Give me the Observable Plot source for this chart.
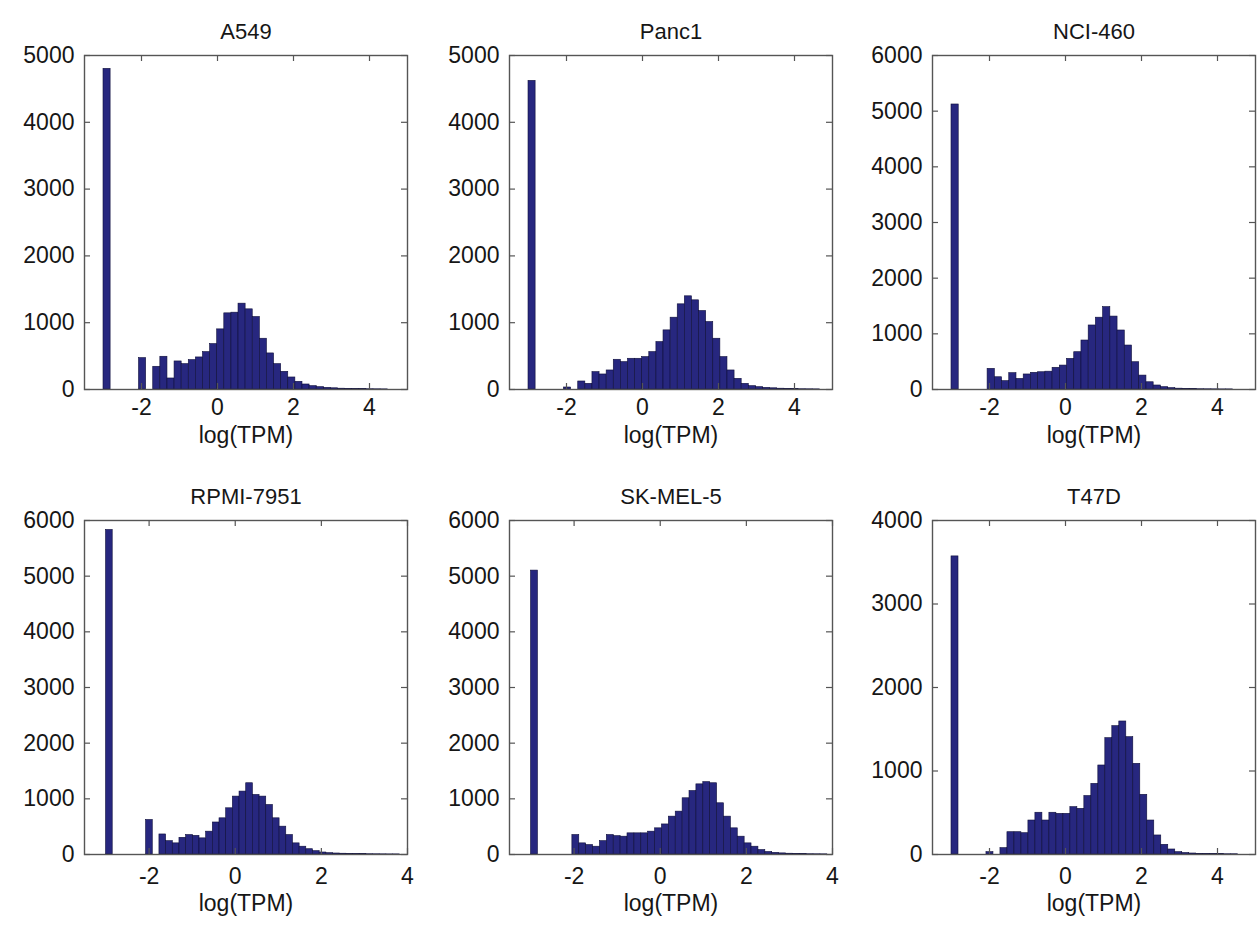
<!DOCTYPE html>
<html>
<head>
<meta charset="utf-8">
<script src="https://cdn.jsdelivr.net/npm/d3@7"></script>
<script src="https://cdn.jsdelivr.net/npm/@observablehq/plot@0.6"></script>
<style>
  html, body { margin: 0; padding: 0; background: #fff; }
  #chart { position: relative; width: 1257px; height: 933px; overflow: hidden; background: #fff; }
  #chart svg { position: absolute; }
</style>
</head>
<body>
<div id="chart"></div>
<script>
// ---- data (counts per histogram bin, bins start at -3) ----
const panelNames = ["A549", "Panc1", "NCI-460", "RPMI-7951", "SK-MEL-5", "T47D"];
const binStart = -3;
const binWidths = [0.187, 0.187, 0.19, 0.155, 0.16, 0.184];

const countsA549 = [4800,0,0,0,0,470,0,340,490,165,420,380,440,480,560,680,900,1140,1150,1285,1200,1085,760,540,380,265,180,115,75,50,35,25,18,12,9,6,5,4,3,2];
const countsPanc1 = [4620,0,0,0,0,30,0,120,85,260,225,285,445,410,460,460,485,560,710,885,1075,1275,1395,1335,1175,1010,760,485,285,160,85,50,35,25,18,12,8,5,4,3,2];
const countsNCI460 = [5120,0,0,0,0,371,220,150,293,190,270,300,310,320,390,430,550,670,880,1150,1290,1480,1310,1060,790,490,250,130,72,42,25,15,10,7,5,4,3,2,2];
const countsRPMI7951 = [5830,0,0,0,0,0,620,0,360,240,200,300,350,335,290,410,575,650,830,1040,1130,1280,1070,1040,890,650,500,350,200,140,95,60,36,24,18,14,10,8,6,5,4,3,2,2];
const countsSKMEL5 = [5100,0,0,0,0,0,350,200,170,140,240,350,330,320,380,380,380,410,470,540,680,770,1010,1140,1260,1300,1280,920,680,470,320,200,140,80,45,30,20,14,10,7,5,4,3];
const countsT47D = [3570,0,0,0,0,28,0,76,267,267,255,407,500,407,500,487,487,567,547,700,846,1066,1393,1537,1593,1405,1086,715,407,228,116,60,28,18,12,8,6,5,4,3,3];

const allCounts = [countsA549, countsPanc1, countsNCI460, countsRPMI7951, countsSKMEL5, countsT47D];
const xMin = -3.5;
const xMaxes = [5, 5, 5, 4, 4, 5];
const yMaxes = [5000, 5000, 6000, 6000, 6000, 4000];
const xTicks = [-2, 0, 2, 4];
const xLabel = "log(TPM)";

// ---- layout ----
const frameW = 323, frameH = 334;
const mL = 80, mT = 55, mB = 80;
const colLeft = [84, 509, 932];
const rowTop = [55, 520];
const FONT = "Liberation Sans, Arial, Helvetica, sans-serif";
const FS = 23;
const TXT = "#161616";
const chart = document.getElementById("chart");

panelNames.forEach((name, i) => {
  const col = i % 3, row = Math.floor(i / 3);
  const w = binWidths[i];
  const xMax = xMaxes[i], yMax = yMaxes[i];
  const yTicks = d3.range(0, yMax + 1, 1000);
  const bins = allCounts[i]
    .map((c, k) => ({x1: binStart + k * w, x2: binStart + (k + 1) * w, count: c}))
    .filter(d => d.count > 0);
  const tfY = 6 / frameH * yMax;           // inward tick length in y units
  const tfX = 6 / frameW * (xMax - xMin);  // inward tick length in x units
  const mR = col === 2 ? 2 : 6;

  const svg = Plot.plot({
    width: mL + frameW + mR,
    height: mT + frameH + mB,
    marginLeft: mL, marginRight: mR, marginTop: mT, marginBottom: mB,
    style: {fontFamily: FONT, fontSize: FS + "px", color: TXT, background: "transparent", overflow: "visible"},
    x: {domain: [xMin, xMax]},
    y: {domain: [0, yMax]},
    marks: [
      Plot.rectY(bins, {x1: "x1", x2: "x2", y: "count", fill: "#27277f", stroke: "#0e0e3a", strokeWidth: 0.6}),
      Plot.frame({stroke: "#555", strokeWidth: 1.4}),
      Plot.ruleX(xTicks, {y1: 0, y2: tfY, stroke: "#555", strokeWidth: 1.2}),
      Plot.ruleX(xTicks, {y1: yMax, y2: yMax - tfY, stroke: "#555", strokeWidth: 1.2}),
      Plot.ruleY(yTicks, {x1: xMin, x2: xMin + tfX, stroke: "#555", strokeWidth: 1.2}),
      Plot.ruleY(yTicks, {x1: xMax, x2: xMax - tfX, stroke: "#555", strokeWidth: 1.2}),
      Plot.axisX({ticks: xTicks, tickSize: 0, tickPadding: row === 0 ? 9 : 13, fontSize: FS, fill: TXT, label: null, tickFormat: d => (d < 0 ? "-" + Math.abs(d) : String(d))}),
      Plot.axisY({ticks: yTicks, tickSize: 0, tickPadding: 10, fontSize: FS, fill: TXT, label: null, tickFormat: d => String(d)}),
      Plot.text([name], {frameAnchor: "top", dy: -32, fontSize: FS - 1, fill: TXT}),
      Plot.text([xLabel], {frameAnchor: "bottom", dy: row === 0 ? 53 : 56, fontSize: FS, fill: TXT})
    ]
  });
  svg.style.left = (colLeft[col] - mL) + "px";
  svg.style.top = (rowTop[row] - mT) + "px";
  chart.appendChild(svg);
});
</script>
</body>
</html>
